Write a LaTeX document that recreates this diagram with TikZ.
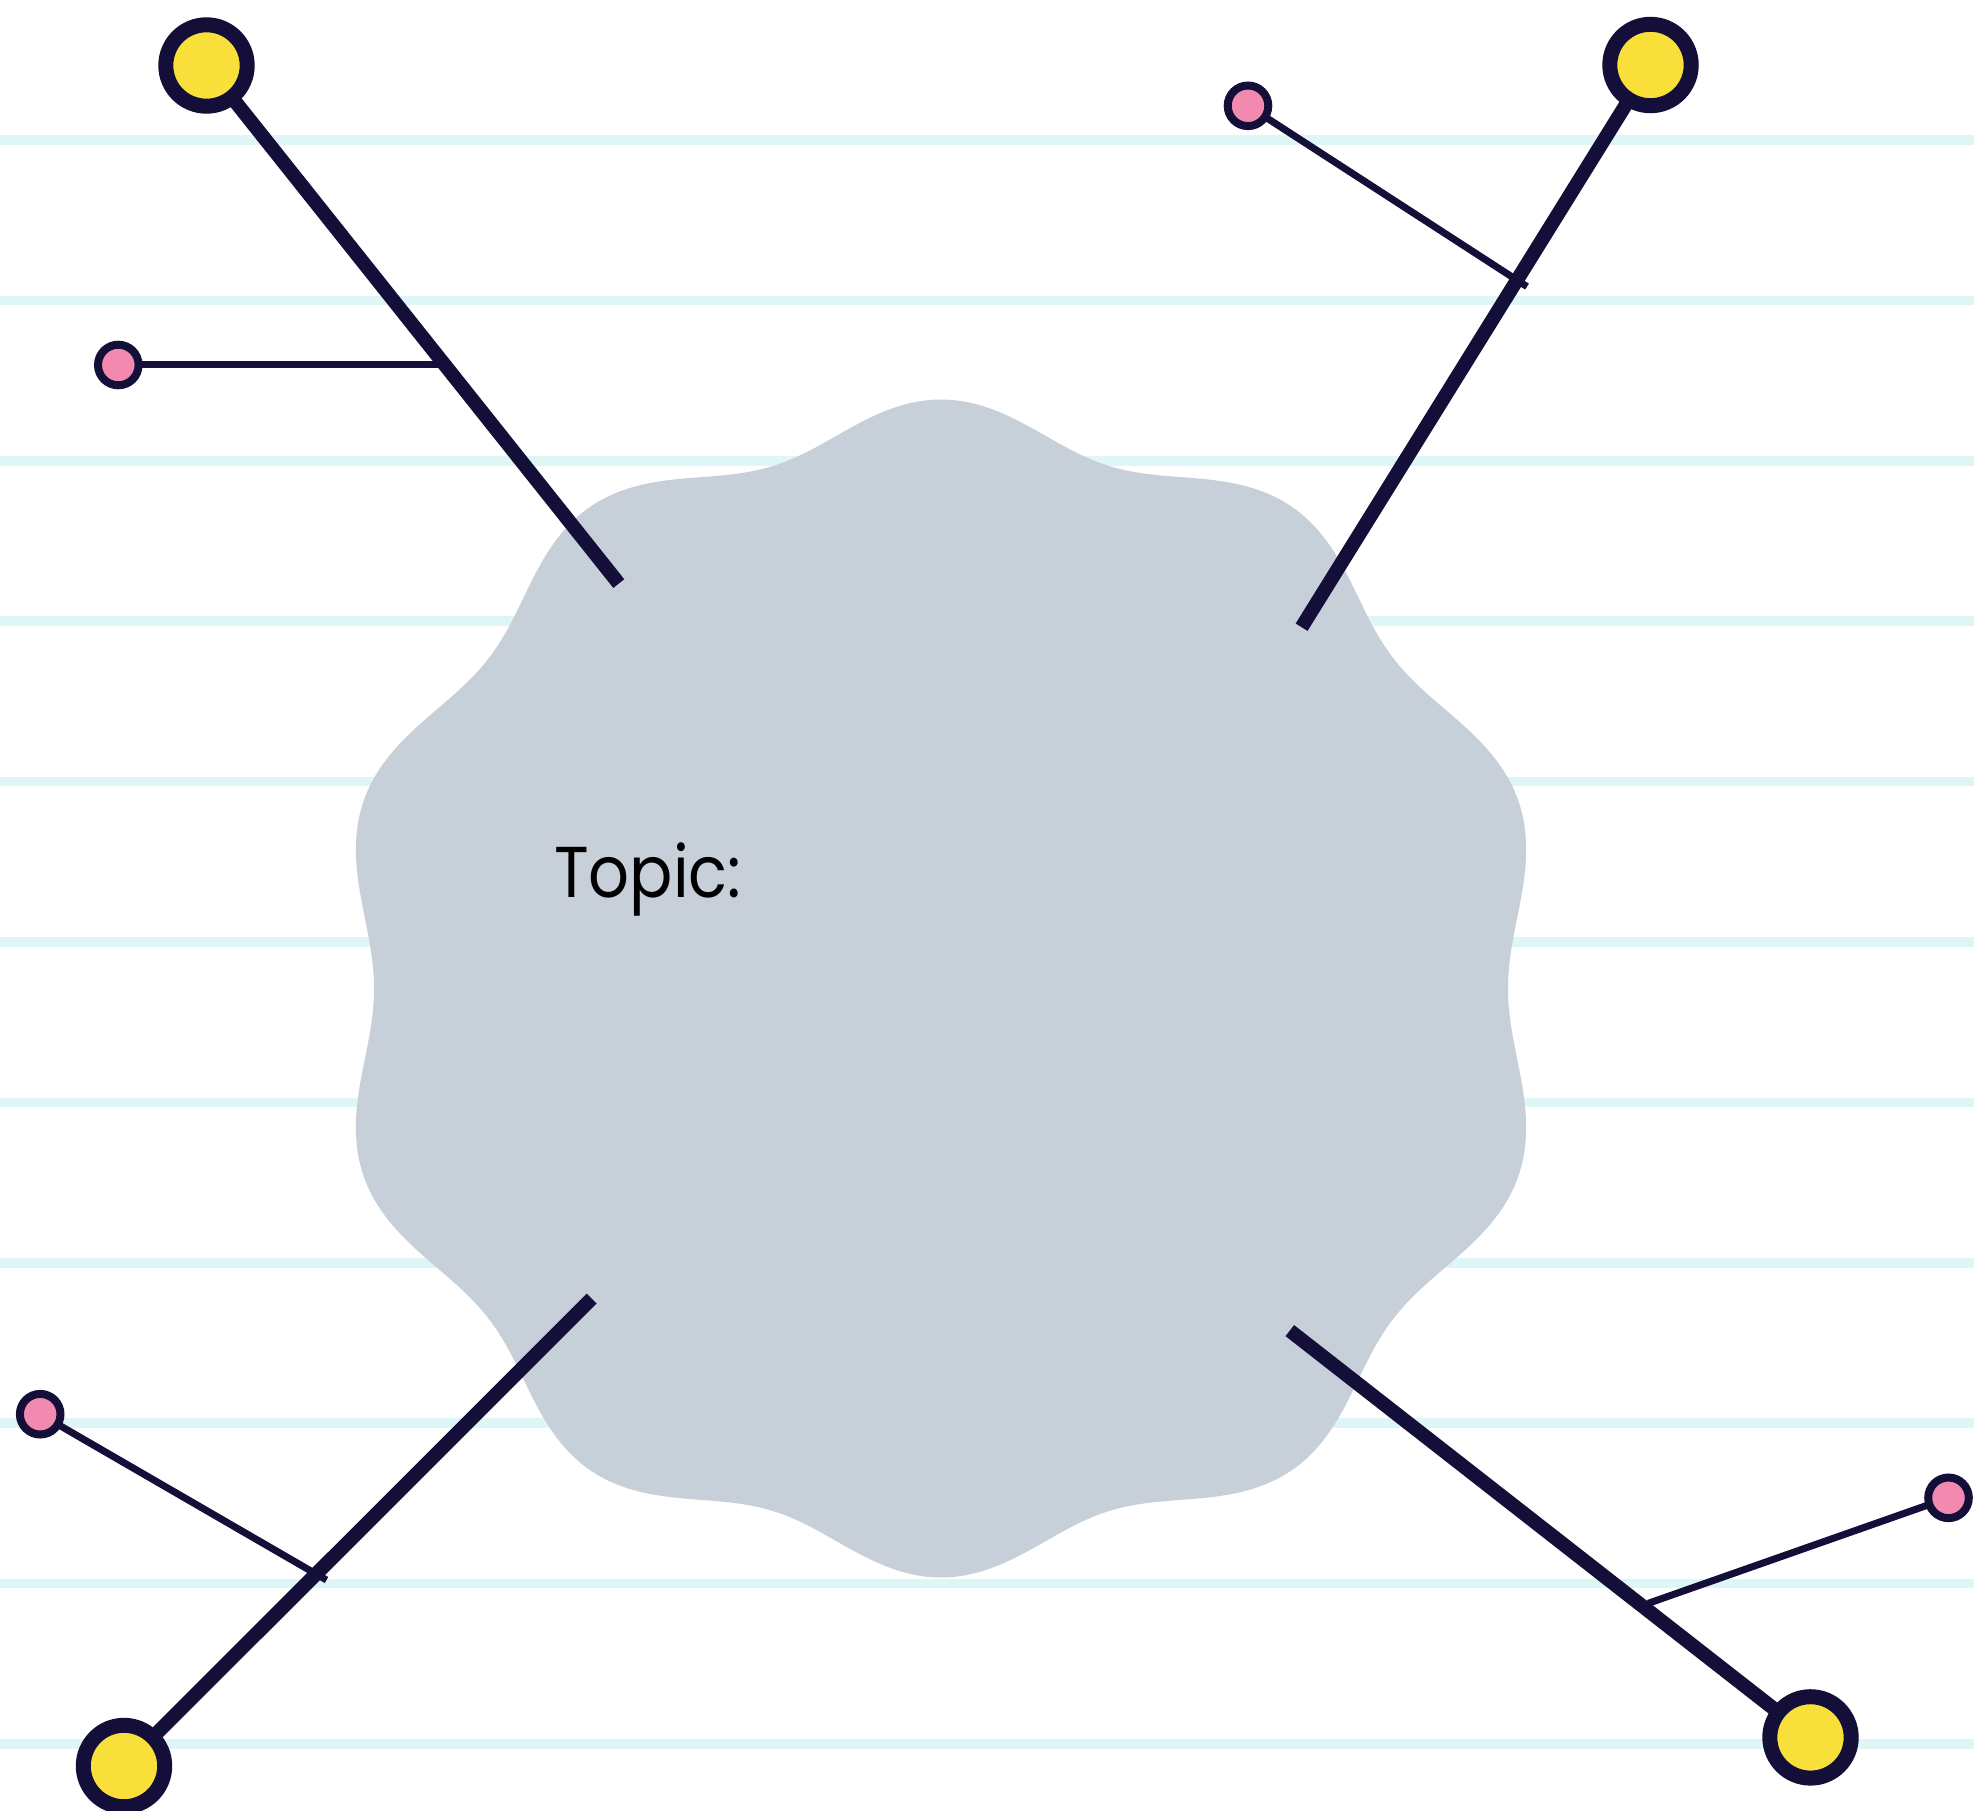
\documentclass[tikz,border=0pt]{standalone}
\usepackage{fontspec}
\newfontfamily\labelfont{Poppins}
\definecolor{ink}{RGB}{19,15,56}
\definecolor{sun}{RGB}{249,223,58}
\definecolor{rose}{RGB}{242,138,176}
\definecolor{slate}{RGB}{199,207,216}
\definecolor{ruleline}{RGB}{222,246,246}
\pgfdeclarelayer{paper}
\pgfdeclarelayer{links}
\pgfsetlayers{paper,links,main}
\begin{document}
\begin{tikzpicture}[x=1pt,y=-1pt,
  hub/.style={circle, draw=ink, fill=sun, line width=15pt, minimum size=81.4pt, inner sep=0pt},
  leaf/.style={circle, draw=ink, fill=rose, line width=8pt, minimum size=40.6pt, inner sep=0pt},
  spoke/.style={draw=ink, line width=14pt},
  twig/.style={draw=ink, line width=7pt},
  ruled/.style={fill=ruleline},
  badge/.style={fill=slate}
]
\useasboundingbox (0,0) rectangle (1974,1811);

% lined paper and the wavy badge
\begin{pgfonlayer}{paper}
  \fill[white] (0,0) rectangle (1974,1811);
  \foreach \k in {0,...,10}
    \fill[ruled] (0,{135.25+160.4*\k}) rectangle (1974,{144.75+160.4*\k});
  \fill[badge] plot[domain=0:360, samples=721]
    ({941+(578-21*cos(10*\x)+10*cos(2*\x))*cos(\x)},
     {988.5-(578-21*cos(10*\x)+10*cos(2*\x))*sin(\x)}) -- cycle;
\end{pgfonlayer}

% big yellow hubs
\node[hub] (ytl) at (206.5,65.5) {};
\node[hub] (ytr) at (1650.5,65) {};
\node[hub] (ybl) at (124,1766) {};
\node[hub] (ybr) at (1810.5,1737.4) {};

% small pink leaves
\node[leaf] (ptl) at (118.3,365) {};
\node[leaf] (ptr) at (1248,105.8) {};
\node[leaf] (pbl) at (40.2,1414.2) {};
\node[leaf] (pbr) at (1948.5,1497.8) {};

% free ends of the spokes and twigs
\coordinate (etl) at (618.8,583.6);
\coordinate (etr) at (1301.6,627.2);
\coordinate (ebl) at (591.7,1298.6);
\coordinate (ebr) at (1289.8,1330.6);
\coordinate (btl) at (444.8,365);
\coordinate (btr) at (1527,286.6);
\coordinate (bbl) at (326.5,1580);
\coordinate (bbr) at (1648.3,1603.3);

\node[anchor=base west, inner sep=0pt, text=black, xscale=0.89, transform shape,
      font=\labelfont\fontsize{72}{72}\selectfont] (topic) at (554,897.3) {Topic:};

\begin{pgfonlayer}{links}
  \draw[twig] (ptl.center) -- (btl);
  \draw[twig] (ptr.center) -- (btr);
  \draw[twig] (pbl.center) -- (bbl);
  \draw[twig] (pbr.center) -- (bbr);
  \draw[spoke] (ytl.center) -- (etl);
  \draw[spoke] (ytr.center) -- (etr);
  \draw[spoke] (ybl.center) -- (ebl);
  \draw[spoke] (ybr.center) -- (ebr);
\end{pgfonlayer}
\end{tikzpicture}
\end{document}
